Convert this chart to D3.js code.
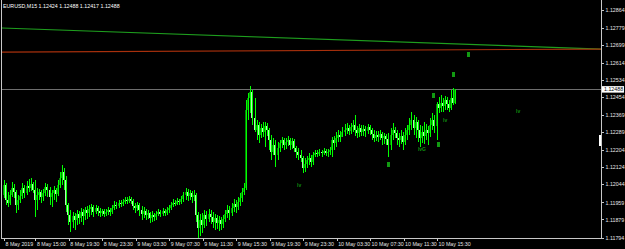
<!DOCTYPE html>
<html><head><meta charset="utf-8">
<script src="https://cdn.jsdelivr.net/npm/d3@7"></script>
<style>html,body{margin:0;padding:0;background:#000;overflow:hidden}</style>
</head><body><svg id="c" width="625" height="249"></svg>
<script>
const chartTitle = "EURUSD,M15  1.12424 1.12488 1.12417 1.12488";

const opens = [1.11991,1.12038,1.11968,1.11954,1.11991,1.12024,1.12005,1.11944,1.11968,1.11987,
1.12024,1.12001,1.12033,1.12024,1.12043,1.12015,1.11968,1.11991,1.12005,1.11982,
1.12001,1.12029,1.12015,1.11982,1.12001,1.12015,1.11996,1.12038,1.12071,1.12099,
1.12061,1.11944,1.11897,1.11865,1.11893,1.11874,1.11902,1.11883,1.11912,1.11893,
1.11921,1.11907,1.11926,1.11935,1.11912,1.11930,1.11916,1.11907,1.11916,1.11902,
1.11912,1.11921,1.11912,1.11930,1.11944,1.11940,1.11954,1.11949,1.11958,1.11968,
1.11963,1.11972,1.11963,1.11940,1.11930,1.11944,1.11921,1.11902,1.11916,1.11897,
1.11907,1.11883,1.11897,1.11888,1.11902,1.11912,1.11902,1.11916,1.11907,1.11921,
1.11930,1.11944,1.11954,1.11949,1.11963,1.11958,1.11972,1.11991,1.12005,1.11987,
1.12001,1.11982,1.11991,1.11897,1.11837,1.11874,1.11851,1.11897,1.11879,1.11902,
1.11888,1.11865,1.11883,1.11860,1.11874,1.11855,1.11879,1.11902,1.11921,1.11907,
1.11930,1.11949,1.11935,1.11958,1.11977,1.12005,1.12024,1.12390,1.12446,1.12474,
1.12352,1.12296,1.12319,1.12272,1.12305,1.12286,1.12315,1.12296,1.12249,1.12193,
1.12225,1.12179,1.12211,1.12235,1.12249,1.12225,1.12240,1.12249,1.12225,1.12244,
1.12211,1.12193,1.12179,1.12165,1.12118,1.12136,1.12155,1.12165,1.12146,1.12179,
1.12188,1.12183,1.12193,1.12188,1.12197,1.12188,1.12193,1.12202,1.12249,1.12235,
1.12258,1.12272,1.12263,1.12286,1.12296,1.12305,1.12291,1.12310,1.12319,1.12296,
1.12282,1.12305,1.12286,1.12300,1.12291,1.12310,1.12296,1.12277,1.12258,1.12272,
1.12263,1.12277,1.12258,1.12268,1.12254,1.12225,1.12272,1.12296,1.12282,1.12258,
1.12249,1.12268,1.12240,1.12272,1.12296,1.12319,1.12343,1.12305,1.12333,1.12296,
1.12258,1.12286,1.12268,1.12296,1.12282,1.12319,1.12343,1.12315,1.12418,1.12399,
1.12422,1.12408,1.12436,1.12418,1.12399,1.12446,1.12424];

const highs = [1.12061,1.12047,1.12005,1.12015,1.12052,1.12043,1.12015,1.11991,1.12015,1.12047,
1.12038,1.12057,1.12066,1.12071,1.12052,1.12061,1.12024,1.12019,1.12015,1.12019,
1.12047,1.12043,1.12029,1.12015,1.12033,1.12024,1.12061,1.12099,1.12132,1.12118,
1.12080,1.11954,1.11921,1.11912,1.11907,1.11921,1.11916,1.11930,1.11926,1.11935,
1.11940,1.11944,1.11949,1.11944,1.11944,1.11940,1.11930,1.11926,1.11926,1.11926,
1.11935,1.11930,1.11944,1.11963,1.11958,1.11968,1.11968,1.11972,1.11982,1.11982,
1.11987,1.11982,1.11972,1.11954,1.11958,1.11954,1.11940,1.11935,1.11926,1.11921,
1.11912,1.11916,1.11907,1.11916,1.11926,1.11921,1.11930,1.11926,1.11935,1.11944,
1.11958,1.11972,1.11968,1.11977,1.11972,1.11987,1.12005,1.12024,1.12019,1.12015,
1.12010,1.12015,1.12001,1.11912,1.11902,1.11907,1.11921,1.11916,1.11926,1.11921,
1.11912,1.11902,1.11897,1.11893,1.11888,1.11897,1.11921,1.11944,1.11940,1.11954,
1.11972,1.11968,1.11982,1.12001,1.12024,1.12047,1.12436,1.12469,1.12502,1.12483,
1.12446,1.12343,1.12333,1.12324,1.12333,1.12333,1.12329,1.12305,1.12272,1.12258,
1.12249,1.12240,1.12249,1.12263,1.12258,1.12258,1.12268,1.12258,1.12258,1.12254,
1.12221,1.12211,1.12202,1.12174,1.12165,1.12174,1.12188,1.12179,1.12193,1.12202,
1.12202,1.12207,1.12202,1.12211,1.12207,1.12207,1.12216,1.12263,1.12268,1.12286,
1.12296,1.12291,1.12310,1.12324,1.12329,1.12319,1.12329,1.12343,1.12366,1.12315,
1.12324,1.12319,1.12319,1.12315,1.12324,1.12319,1.12305,1.12296,1.12291,1.12291,
1.12296,1.12286,1.12282,1.12277,1.12282,1.12305,1.12329,1.12310,1.12296,1.12282,
1.12296,1.12286,1.12305,1.12319,1.12352,1.12380,1.12366,1.12357,1.12343,1.12319,
1.12315,1.12333,1.12324,1.12315,1.12352,1.12375,1.12366,1.12427,1.12450,1.12460,
1.12446,1.12455,1.12450,1.12436,1.12483,1.12493,1.12488];

const lows = [1.11977,1.11944,1.11935,1.11944,1.11982,1.11977,1.11907,1.11921,1.11954,1.11972,
1.11977,1.11991,1.12005,1.12010,1.12001,1.11888,1.11921,1.11968,1.11954,1.11963,
1.11987,1.11982,1.11944,1.11935,1.11968,1.11958,1.11987,1.12024,1.12038,1.12015,
1.11912,1.11851,1.11818,1.11837,1.11827,1.11851,1.11855,1.11865,1.11851,1.11874,
1.11879,1.11888,1.11897,1.11888,1.11902,1.11893,1.11888,1.11893,1.11888,1.11893,
1.11897,1.11893,1.11902,1.11921,1.11926,1.11930,1.11935,1.11940,1.11949,1.11949,
1.11954,1.11949,1.11921,1.11907,1.11916,1.11893,1.11874,1.11883,1.11874,1.11879,
1.11860,1.11865,1.11869,1.11874,1.11893,1.11888,1.11893,1.11893,1.11897,1.11907,
1.11921,1.11935,1.11940,1.11944,1.11944,1.11949,1.11958,1.11968,1.11963,1.11968,
1.11954,1.11963,1.11865,1.11790,1.11799,1.11813,1.11837,1.11846,1.11865,1.11855,
1.11837,1.11827,1.11832,1.11822,1.11827,1.11837,1.11865,1.11883,1.11874,1.11893,
1.11912,1.11907,1.11921,1.11940,1.11958,1.11991,1.12015,1.12343,1.12375,1.12319,
1.12286,1.12249,1.12235,1.12258,1.12263,1.12216,1.12268,1.12202,1.12155,1.12179,
1.12122,1.12155,1.12193,1.12211,1.12202,1.12207,1.12221,1.12202,1.12207,1.12193,
1.12165,1.12155,1.12146,1.12094,1.12099,1.12118,1.12132,1.12122,1.12132,1.12169,
1.12169,1.12174,1.12169,1.12179,1.12174,1.12169,1.12179,1.12169,1.12202,1.12216,
1.12240,1.12240,1.12263,1.12268,1.12277,1.12272,1.12277,1.12286,1.12268,1.12258,
1.12263,1.12268,1.12268,1.12263,1.12277,1.12272,1.12249,1.12240,1.12244,1.12240,
1.12249,1.12225,1.12230,1.12225,1.12169,1.12202,1.12249,1.12258,1.12225,1.12216,
1.12230,1.12202,1.12225,1.12249,1.12272,1.12296,1.12272,1.12258,1.12240,1.12216,
1.12235,1.12230,1.12249,1.12225,1.12263,1.12296,1.12282,1.12249,1.12375,1.12380,
1.12380,1.12390,1.12390,1.12380,1.12390,1.12413,1.12417];

const closes = [1.12038,1.11968,1.11954,1.11991,1.12024,1.12005,1.11944,1.11968,1.11987,1.12024,
1.12001,1.12033,1.12024,1.12043,1.12015,1.11968,1.11991,1.12005,1.11982,1.12001,
1.12029,1.12015,1.11982,1.12001,1.12015,1.11996,1.12038,1.12071,1.12099,1.12061,
1.11944,1.11897,1.11865,1.11893,1.11874,1.11902,1.11883,1.11912,1.11893,1.11921,
1.11907,1.11926,1.11935,1.11912,1.11930,1.11916,1.11907,1.11916,1.11902,1.11912,
1.11921,1.11912,1.11930,1.11944,1.11940,1.11954,1.11949,1.11958,1.11968,1.11963,
1.11972,1.11963,1.11940,1.11930,1.11944,1.11921,1.11902,1.11916,1.11897,1.11907,
1.11883,1.11897,1.11888,1.11902,1.11912,1.11902,1.11916,1.11907,1.11921,1.11930,
1.11944,1.11954,1.11949,1.11963,1.11958,1.11972,1.11991,1.12005,1.11987,1.12001,
1.11982,1.11991,1.11897,1.11837,1.11874,1.11851,1.11897,1.11879,1.11902,1.11888,
1.11865,1.11883,1.11860,1.11874,1.11855,1.11879,1.11902,1.11921,1.11907,1.11930,
1.11949,1.11935,1.11958,1.11977,1.12005,1.12024,1.12390,1.12446,1.12474,1.12352,
1.12296,1.12319,1.12272,1.12305,1.12286,1.12315,1.12296,1.12249,1.12193,1.12225,
1.12179,1.12211,1.12235,1.12249,1.12225,1.12240,1.12249,1.12225,1.12244,1.12211,
1.12193,1.12179,1.12165,1.12118,1.12136,1.12155,1.12165,1.12146,1.12179,1.12188,
1.12183,1.12193,1.12188,1.12197,1.12188,1.12193,1.12202,1.12249,1.12235,1.12258,
1.12272,1.12263,1.12286,1.12296,1.12305,1.12291,1.12310,1.12319,1.12296,1.12282,
1.12305,1.12286,1.12300,1.12291,1.12310,1.12296,1.12277,1.12258,1.12272,1.12263,
1.12277,1.12258,1.12268,1.12254,1.12225,1.12272,1.12296,1.12282,1.12258,1.12249,
1.12268,1.12240,1.12272,1.12296,1.12319,1.12343,1.12305,1.12333,1.12296,1.12258,
1.12286,1.12268,1.12296,1.12282,1.12319,1.12343,1.12315,1.12418,1.12399,1.12422,
1.12408,1.12436,1.12418,1.12399,1.12446,1.12424,1.12488];

const timeLabels = ["8 May 2019","8 May 15:00","8 May 19:30","8 May 23:30","9 May 03:30","9 May 07:30","9 May 11:30","9 May 15:30","9 May 19:30","9 May 23:30","10 May 03:30","10 May 07:30","10 May 11:30","10 May 15:30"];
const timeLabelBars = [0,15,31,47,63,79,95,111,127,143,159,175,191,207];

const priceTicks = [1.12864,1.12779,1.12699,1.12614,1.12534,1.12454,1.12369,1.12289,1.12204,1.12124,1.12044,1.11959,1.11879,1.11794];
const priceTickLabels = ["1.12864","1.12779","1.12699","1.12614","1.12534","1.12454","1.12369","1.12289","1.12204","1.12124","1.12044","1.11959","1.11879","1.11794"];

const bidPrice = 1.12488;
const bidLabel = "1.12488";

// trend lines: [barIndex, price] end points
const trendGreen = [[-1.2,1.12775],[285.6,1.12676]];
const trendRed = [[-1.2,1.12662],[285.6,1.12676]];

// signal boxes [barIndex, price]
const signalBoxes = [[222,1.12653],[215,1.12557],[205.3,1.12462],[207.7,1.12230],[183.8,1.12136]];
// signal texts [text, barIndex, price]
const signalTexts = [["lv",140.3,1.12040],["lv",210.1,1.12343],["lvG",198.1,1.12207],["lv",245,1.12385]];
// edge marker on price scale [top price, bottom price]
const edgeMarker = [1.12272,1.12221];

const W = 625, H = 249;
const PL = 1, PR = 601, PT = 0, PB = 238;
const FONT = "'Liberation Sans', Arial, sans-serif";

const svg = d3.select('#c');
svg.append('rect').attr('width',W).attr('height',H).attr('fill','#000');

const x = d3.scaleLinear().domain([0,216]).range([3.5,455.4]);
const y = d3.scaleLinear().domain([1.11794,1.12864]).range([237,9]);

svg.append('clipPath').attr('id','clip').append('rect')
  .attr('x',PL+1).attr('y',PT).attr('width',PR-PL-1).attr('height',PB-PT);

const g = svg.append('g').attr('clip-path','url(#clip)').attr('shape-rendering','crispEdges');

// bid line
g.append('line').attr('x1',PL).attr('x2',PR).attr('y1',Math.round(y(bidPrice))+0.5).attr('y2',Math.round(y(bidPrice))+0.5)
  .attr('stroke','#6e6e6e').attr('stroke-width',1);

// trend lines
const ln = d3.line().x(d=>x(d[0])).y(d=>y(d[1]));
svg.append('g').attr('clip-path','url(#clip)').selectAll('path.tl')
  .data([[trendGreen,'#1e9e1e'],[trendRed,'#a8300c']]).join('path')
  .attr('d',d=>ln(d[0])).attr('stroke',d=>d[1]).attr('stroke-width',1.2).attr('fill','none');

// bars
const bars = d3.range(closes.length).map(i=>({i,o:opens[i],h:highs[i],l:lows[i],c:closes[i]}));
const bg = g.append('g');
bars.forEach(b=>{
  const cx = Math.round(x(b.i));
  const hi = Math.max(b.h,b.o,b.c), lo = Math.min(b.l,b.o,b.c);
  const yh = Math.round(y(hi)), yl = Math.round(y(lo));
  const yo = Math.round(y(b.o)), yc = Math.round(y(b.c));
  const up = b.c >= b.o;
  bg.append('rect').attr('x',cx-1).attr('width',1)
    .attr('y',Math.min(yo,yc)).attr('height',Math.max(1,Math.abs(yo-yc)))
    .attr('fill', up ? '#008c00' : '#b4f5b4');
  bg.append('rect').attr('x',cx).attr('width',1)
    .attr('y',yh).attr('height',Math.max(1,yl-yh))
    .attr('fill','#00ff00');
});

// signal boxes
g.selectAll('rect.sig').data(signalBoxes).join('rect').attr('class','sig')
  .attr('x',d=>Math.round(x(d[0]))-1).attr('y',d=>Math.round(y(d[1]))-2)
  .attr('width',3).attr('height',5).attr('fill','#129a12');

// signal texts
svg.selectAll('text.st').data(signalTexts).join('text').attr('class','st')
  .attr('x',d=>x(d[1])).attr('y',d=>y(d[2])+2)
  .attr('fill','#0f8f0f').attr('font-family',FONT).attr('font-size',5).attr('font-weight','bold')
  .text(d=>d[0]);

// edge marker
g.append('rect').attr('x',PR-2).attr('width',2)
  .attr('y',y(edgeMarker[0])).attr('height',y(edgeMarker[1])-y(edgeMarker[0]))
  .attr('fill','#ffffff');

// frame
const frame = svg.append('g').attr('shape-rendering','crispEdges').attr('stroke','#c8c8c8').attr('stroke-width',1);
frame.append('line').attr('x1',PL+0.5).attr('x2',PL+0.5).attr('y1',0).attr('y2',PB+0.5);
frame.append('line').attr('x1',PL).attr('x2',PR+1).attr('y1',PB+0.5).attr('y2',PB+0.5);
frame.append('line').attr('x1',PR+0.5).attr('x2',PR+0.5).attr('y1',0).attr('y2',PB+1);

// right axis
const yAxis = d3.axisRight(y).tickValues(priceTicks).tickFormat((d,i)=>priceTickLabels[i]).tickSize(2).tickPadding(2);
const ya = svg.append('g').attr('transform',`translate(${PR+0.5},0.5)`).call(yAxis);
ya.select('.domain').remove();
ya.selectAll('line').attr('stroke','#c8c8c8').attr('shape-rendering','crispEdges');
ya.selectAll('text').attr('fill','#e6e6e6').attr('font-family',FONT).attr('font-size',5.3);

// bottom axis
const xAxis = d3.axisBottom(x).tickValues(timeLabelBars).tickFormat((d,i)=>timeLabels[i]).tickSize(2);
const xa = svg.append('g').attr('transform',`translate(0.5,${PB+0.5})`).call(xAxis);
xa.select('.domain').remove();
xa.selectAll('line').attr('stroke','#c8c8c8').attr('shape-rendering','crispEdges');
xa.selectAll('text').attr('fill','#e6e6e6').attr('font-family',FONT).attr('font-size',5.3)
  .attr('text-anchor','start').attr('dx',1).attr('y',7.5).attr('dy',0);

// bid price box
const by = y(bidPrice);
svg.append('rect').attr('x',PR+1).attr('y',by-3).attr('width',22).attr('height',6.5).attr('fill','#ffffff');
svg.append('text').attr('x',PR+3).attr('y',by+2).attr('fill','#000').attr('font-family',FONT).attr('font-size',5.3).text(bidLabel);

// title
svg.append('text').attr('x',3).attr('y',7.5).attr('fill','#ffffff').attr('font-family',FONT).attr('font-size',5.3).text(chartTitle);
</script></body></html>
